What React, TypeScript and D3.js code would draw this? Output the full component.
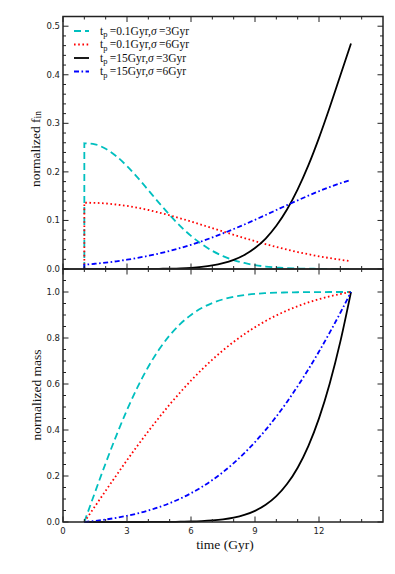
import React from "react";
import * as d3 from "d3";

// ---------- data ----------
const times = [1, 1.5, 2, 2.5, 3, 3.5, 4, 4.5, 5, 5.5, 6, 6.5, 7, 7.5, 8, 8.5, 9, 9.5, 10, 10.5, 11, 11.5, 12, 12.5, 13, 13.5];
const startTime = 1;

// top panel: normalized f_in
const finCyan = [0.2589, 0.2567, 0.2476, 0.2323, 0.2119, 0.1881, 0.1623, 0.1363, 0.1113, 0.0883, 0.0682, 0.0513, 0.0374, 0.0266, 0.0184, 0.0124, 0.0081, 0.0051, 0.0032, 0.0019, 0.0011, 0.0006, 0.0004, 0.0002, 0.0001, 0.0];
const finRed = [0.1365, 0.1362, 0.135, 0.1328, 0.1298, 0.126, 0.1215, 0.1163, 0.1105, 0.1043, 0.0978, 0.091, 0.0842, 0.0773, 0.0705, 0.0638, 0.0574, 0.0512, 0.0454, 0.04, 0.035, 0.0304, 0.0262, 0.0225, 0.0191, 0.0161];
const finBlack = [0, 0, 0, 0, 0.0001, 0.0001, 0.0002, 0.0004, 0.0008, 0.0014, 0.0025, 0.0044, 0.0073, 0.0119, 0.0188, 0.0289, 0.0432, 0.0628, 0.0889, 0.1224, 0.1639, 0.2133, 0.2701, 0.3326, 0.3985, 0.4643];
const finBlue = [0.0088, 0.0108, 0.0131, 0.0159, 0.0191, 0.0229, 0.0271, 0.0319, 0.0373, 0.0433, 0.0499, 0.0571, 0.065, 0.0734, 0.0823, 0.0916, 0.1013, 0.1113, 0.1214, 0.1315, 0.1414, 0.151, 0.1602, 0.1688, 0.1766, 0.1835];

// bottom panel: normalized mass
const massCyan = [0, 0.1292, 0.2556, 0.3758, 0.4871, 0.5872, 0.675, 0.7497, 0.8114, 0.8613, 0.9003, 0.9301, 0.9521, 0.968, 0.9792, 0.9868, 0.9918, 0.9949, 0.997, 0.9982, 0.999, 0.9995, 0.9997, 0.9999, 1.0, 1.0];
const massRed = [0, 0.0681, 0.1359, 0.2028, 0.2687, 0.3325, 0.3945, 0.454, 0.5107, 0.5642, 0.6149, 0.6619, 0.7059, 0.7463, 0.783, 0.8167, 0.8469, 0.874, 0.8982, 0.9195, 0.9382, 0.9546, 0.9688, 0.9809, 0.9912, 1.0];
const massBlack = [0, 0, 0, 0, 0, 0, 0.0002, 0.0003, 0.0006, 0.0012, 0.0021, 0.0038, 0.0067, 0.0114, 0.0189, 0.0307, 0.0485, 0.0748, 0.1124, 0.1649, 0.2361, 0.3301, 0.4506, 0.6013, 0.7841, 1.0];
const massBlue = [0, 0.0049, 0.0109, 0.0181, 0.0269, 0.0373, 0.0498, 0.0645, 0.0818, 0.1019, 0.1252, 0.1519, 0.1824, 0.2169, 0.2558, 0.2993, 0.3476, 0.4005, 0.4589, 0.5221, 0.5904, 0.6633, 0.7412, 0.8233, 0.9097, 1.0];

const seriesTp = ["0.1", "0.1", "15", "15"];
const seriesSigma = ["3", "6", "3", "6"];

const xMajorTicks = [0, 3, 6, 9, 12];
const topMajorTicks = [0.0, 0.1, 0.2, 0.3, 0.4, 0.5];
const bottomMajorTicks = [0.0, 0.2, 0.4, 0.6, 0.8, 1.0];

// ---------- styles ----------
const styles = [
  { color: "#00bfbf", dash: "7,4" },
  { color: "#ff0000", dash: "1.6,2.6" },
  { color: "#000000", dash: "" },
  { color: "#0000ff", dash: "5,2.5,1.6,2.5" },
];

const W = 395;
const H = 574;
const L = 63;
const R = 383;
const TOP = 16.5;
const MID = 269;
const BOT = 522;

export default function App() {
  const x = d3.scaleLinear().domain([0, 15]).range([L, R]);
  const yT = d3.scaleLinear().domain([0, 0.52]).range([MID, TOP]);
  const yB = d3.scaleLinear().domain([0, 1.1]).range([BOT, MID]);

  const topSeries = [finCyan, finRed, finBlack, finBlue];
  const botSeries = [massCyan, massRed, massBlack, massBlue];

  const mkLine = (y: d3.ScaleLinear<number, number>) =>
    d3
      .line<number>()
      .x((_, i) => x(times[i]))
      .y((d) => y(d))
      .curve(d3.curveMonotoneX);

  const lineT = mkLine(yT);
  const lineB = mkLine(yB);

  const topPaths = topSeries.map((s) => {
    const p = lineT(s) || "";
    return `M${x(startTime)},${yT(0)}L` + p.slice(1);
  });
  const botPaths = botSeries.map((s) => lineB(s) || "");

  const xMinor = d3.range(1, 15).filter((v) => !xMajorTicks.includes(v));
  const topMinor = d3.range(0, 27).map((i) => i * 0.02).filter((_, i) => i % 5 !== 0);
  const botMinor = d3.range(0, 23).map((i) => i * 0.05).filter((_, i) => i % 4 !== 0);

  const MAJ = 5.5;
  const MIN = 3;
  const tickColor = "#222";
  const tickFont = { fontFamily: "DejaVu Sans", fontSize: 8.5, fill: "#222" };
  const serif = "Liberation Serif";

  const ticks: JSX.Element[] = [];
  let k = 0;
  const xTickSet = [
    ...xMajorTicks.map((v) => ({ v, len: MAJ })),
    ...xMinor.map((v) => ({ v, len: MIN })),
  ];
  xTickSet.forEach(({ v, len }) => {
    const xx = x(v);
    ticks.push(<line key={k++} x1={xx} x2={xx} y1={TOP} y2={TOP + len} stroke={tickColor} strokeWidth={1} />);
    ticks.push(<line key={k++} x1={xx} x2={xx} y1={MID - len} y2={MID + len} stroke={tickColor} strokeWidth={1} />);
    ticks.push(<line key={k++} x1={xx} x2={xx} y1={BOT} y2={BOT - len} stroke={tickColor} strokeWidth={1} />);
  });
  const yTickPush = (y: d3.ScaleLinear<number, number>, v: number, len: number) => {
    const yy = y(v);
    ticks.push(<line key={k++} x1={L} x2={L + len} y1={yy} y2={yy} stroke={tickColor} strokeWidth={1} />);
    ticks.push(<line key={k++} x1={R} x2={R - len} y1={yy} y2={yy} stroke={tickColor} strokeWidth={1} />);
  };
  topMajorTicks.forEach((v) => yTickPush(yT, v, MAJ));
  topMinor.forEach((v) => yTickPush(yT, v, MIN));
  bottomMajorTicks.forEach((v) => yTickPush(yB, v, MAJ));
  botMinor.forEach((v) => yTickPush(yB, v, MIN));

  const legendRows = [31, 44.5, 58, 71.5];

  return (
    <svg
      width={W}
      height={H}
      style={{ position: "absolute", left: 0, top: 0, background: "#fff" }}
      xmlns="http://www.w3.org/2000/svg"
    >
      <rect x={0} y={0} width={W} height={H} fill="#fff" />
      <defs>
        <clipPath id="clipTop">
          <rect x={L} y={TOP} width={R - L} height={MID - TOP} />
        </clipPath>
        <clipPath id="clipBot">
          <rect x={L} y={MID} width={R - L} height={BOT - MID + 1} />
        </clipPath>
      </defs>

      <g clipPath="url(#clipTop)">
        {topPaths.map((d, i) => (
          <path key={i} d={d} fill="none" stroke={styles[i].color} strokeWidth={1.8} strokeDasharray={styles[i].dash || undefined} />
        ))}
      </g>
      <g clipPath="url(#clipBot)">
        {botPaths.map((d, i) => (
          <path key={i} d={d} fill="none" stroke={styles[i].color} strokeWidth={1.8} strokeDasharray={styles[i].dash || undefined} />
        ))}
      </g>

      <rect x={L} y={TOP} width={R - L} height={MID - TOP} fill="none" stroke="#222" strokeWidth={1.5} />
      <rect x={L} y={MID} width={R - L} height={BOT - MID} fill="none" stroke="#222" strokeWidth={1.5} />
      {ticks}

      {topMajorTicks.map((v) => (
        <text key={"tl" + v} x={L - 3} y={yT(v) + 3} textAnchor="end" {...tickFont}>
          {v.toFixed(1)}
        </text>
      ))}
      {bottomMajorTicks.map((v) => (
        <text key={"bl" + v} x={L - 3} y={yB(v) + 3} textAnchor="end" {...tickFont}>
          {v.toFixed(1)}
        </text>
      ))}
      {xMajorTicks.map((v) => (
        <text key={"xl" + v} x={x(v)} y={533.5} textAnchor="middle" {...tickFont}>
          {String(v)}
        </text>
      ))}

      <text x={(L + R) / 2 + 2} y={549} textAnchor="middle" fontFamily={serif} fontSize={13.5} fill="#111">
        time (Gyr)
      </text>
      <text transform={`translate(35,149) rotate(-90)`} textAnchor="middle" fontFamily={serif} fontSize={13.5} fill="#111" dominantBaseline="central">
        normalized f<tspan fontSize={9.5} dy={2.5}>in</tspan>
      </text>
      <text transform={`translate(36,395) rotate(-90)`} textAnchor="middle" fontFamily={serif} fontSize={13.5} fill="#111" dominantBaseline="central">
        normalized mass
      </text>

      {legendRows.map((ry, i) => (
        <g key={"lg" + i}>
          <line x1={74} x2={89} y1={ry} y2={ry} stroke={styles[i].color} strokeWidth={1.8} strokeDasharray={styles[i].dash || undefined} />
          <text x={100} y={ry + 3.5} fontFamily={serif} fontSize={11.5} fill="#111">
            t<tspan fontSize={8.5} dy={2.5}>p</tspan>
            <tspan dy={-2.5}>{"\u2009=" + seriesTp[i] + "Gyr,"}</tspan>
            <tspan fontStyle="italic">σ</tspan>
            {"\u2009=" + seriesSigma[i] + "Gyr"}
          </text>
        </g>
      ))}
    </svg>
  );
}
